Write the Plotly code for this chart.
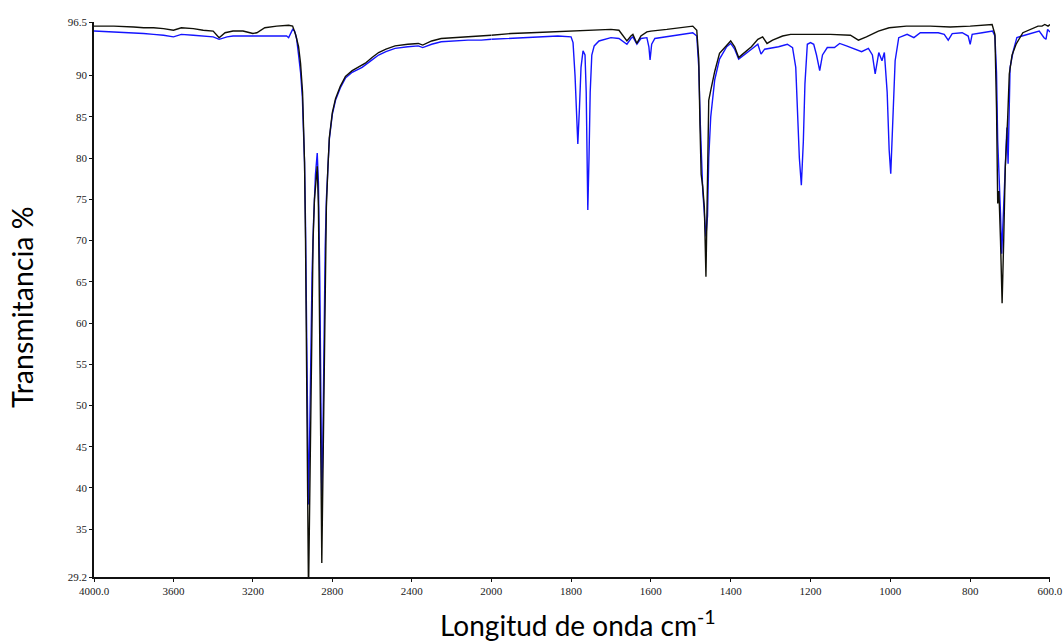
import plotly.graph_objects as go

# ---- Data: sample spectrum (black) ----
wn_black = [4000, 3900, 3800, 3750, 3700, 3650, 3600, 3560, 3500, 3450, 3400, 3370, 3340, 3300,
            3250, 3200, 3180, 3140, 3080, 3020, 3000, 2985, 2970, 2960, 2950, 2945, 2940, 2935,
            2930, 2925, 2920, 2912, 2905, 2897, 2890, 2882, 2876, 2870, 2863, 2857, 2853, 2848,
            2842, 2836, 2830, 2822, 2815, 2800, 2784, 2760, 2734, 2700, 2684, 2650, 2634, 2600,
            2567, 2530, 2484, 2420, 2367, 2345, 2334, 2300, 2252, 2200, 2117, 2050, 2000,
            1950, 1900, 1850, 1800, 1750, 1700, 1680, 1660, 1650, 1645, 1635, 1625, 1610, 1600,
            1560, 1520, 1495, 1485, 1480, 1477, 1474, 1470, 1466, 1462, 1458, 1455, 1450, 1440,
            1428, 1410, 1400, 1390, 1380, 1370, 1348, 1332, 1320, 1309, 1295, 1270, 1250, 1200,
            1150, 1100, 1080, 1060, 1030, 1003, 960, 900, 850, 800, 760, 745, 738, 734, 731, 728,
            724, 720, 716, 712, 706, 702, 695, 685, 668, 650, 630, 620, 613, 605, 600]
t_black = [96.0, 96.0, 95.9, 95.8, 95.8, 95.7, 95.5, 95.8, 95.7, 95.5, 95.4, 94.6, 95.2, 95.4,
           95.4, 95.1, 95.2, 95.8, 96.0, 96.1, 96.0, 95.0, 93.5, 91.5, 88.0, 84.5, 79.5, 70.0,
           58.0, 42.0, 27.0, 42.0, 58.0, 70.0, 75.0, 78.0, 79.0, 74.0, 60.0, 42.0, 30.9, 40.0,
           55.0, 68.0, 74.0, 79.0, 82.5, 85.5, 87.2, 88.7, 89.9, 90.6, 90.8, 91.2, 91.5, 92.2,
           92.8, 93.2, 93.6, 93.8, 93.9, 93.7, 93.8, 94.2, 94.5, 94.6, 94.7, 94.8, 94.9,
           95.1, 95.2, 95.3, 95.4, 95.5, 95.6, 95.5, 94.2, 94.8, 95.0, 93.9, 94.8, 95.3, 95.4,
           95.6, 95.9, 96.0, 95.5, 92.0, 84.0, 78.0, 76.5, 74.0, 65.6, 80.0, 87.0, 88.2, 90.5,
           92.7, 93.7, 94.2, 93.5, 92.2, 92.6, 93.5, 94.4, 94.7, 93.9, 94.3, 94.8, 95.0, 95.0,
           95.0, 94.9, 94.3, 94.7, 95.4, 95.8, 96.0, 96.0, 95.9, 96.0, 96.1, 96.2, 95.0, 86.0,
           74.5, 76.0, 70.0, 62.4, 70.0, 78.9, 84.9, 90.2, 92.5, 93.8, 95.2, 95.6, 96.0, 96.0,
           96.2, 96.0, 96.2]

# ---- Data: second spectrum (blue) ----
wn_blue = [4000, 3900, 3800, 3750, 3700, 3650, 3600, 3560, 3500, 3450, 3400, 3370, 3330, 3300,
           3200, 3100, 3030, 3020, 3010, 3000, 2990, 2980, 2970, 2960, 2951, 2945, 2940, 2935,
           2930, 2925, 2920, 2915, 2910, 2902, 2895, 2885, 2876, 2870, 2863, 2857, 2853, 2848,
           2842, 2836, 2830, 2822, 2815, 2800, 2784, 2760, 2734, 2700, 2650, 2600, 2567, 2530,
           2484, 2420, 2367, 2345, 2300, 2252, 2200, 2117, 2050, 2000,
           1950, 1900, 1850, 1833, 1800, 1795, 1790, 1786, 1783, 1779, 1775, 1770, 1765, 1762,
           1759, 1758, 1755, 1752, 1748, 1742, 1730, 1717, 1700, 1680, 1660, 1650, 1645, 1635,
           1625, 1610, 1605, 1602, 1598, 1590, 1560, 1520, 1495, 1485, 1480, 1476, 1470, 1466,
           1462, 1458, 1455, 1450, 1440, 1428, 1410, 1400, 1390, 1380, 1370, 1348, 1332, 1324,
           1315, 1300, 1280, 1258, 1245, 1237, 1232, 1228, 1223, 1218, 1214, 1208, 1200, 1192,
           1185, 1177, 1170, 1158, 1140, 1127, 1110, 1093, 1072, 1055, 1045, 1038, 1033, 1029,
           1021, 1015, 1008, 1003, 999, 995, 991, 988, 979, 958, 941, 925, 880, 865, 855, 845,
           820, 805, 800, 795, 770, 744, 738, 734, 731, 727, 724, 721, 717, 712, 708, 705, 702,
           700, 692, 683, 670, 650, 627, 615, 610, 606, 600]
t_blue = [95.4, 95.3, 95.2, 95.1, 95.0, 94.9, 94.7, 95.0, 94.9, 94.8, 94.7, 94.4, 94.7, 94.8,
          94.8, 94.8, 94.8, 94.6, 95.2, 95.6, 95.4, 94.5, 92.5, 90.4, 87.4, 84.0, 79.5, 72.0,
          62.0, 50.0, 38.0, 45.0, 56.0, 66.0, 72.0, 78.0, 80.6, 77.0, 65.0, 50.0, 39.0, 45.0,
          58.0, 69.0, 75.0, 79.5, 82.3, 85.3, 87.0, 88.5, 89.7, 90.4, 91.0, 91.9, 92.5, 92.9,
          93.3, 93.5, 93.6, 93.4, 93.8, 94.1, 94.2, 94.3, 94.3, 94.4,
          94.5, 94.6, 94.7, 94.8, 94.7, 94.0, 90.0, 84.0, 81.7, 86.0, 91.0, 93.0, 92.5, 88.0,
          80.0, 73.7, 80.0, 88.0, 92.5, 93.6, 94.2, 94.4, 94.6, 94.5, 93.8, 94.5, 94.7, 93.8,
          94.5, 94.6, 93.5, 91.9, 93.8, 94.5, 94.7, 95.0, 95.2, 94.8, 91.0, 84.0, 76.0, 73.3,
          70.5, 73.0, 80.0, 85.0, 89.5, 92.0, 93.5, 93.9, 93.2, 92.0, 92.4, 93.2, 93.8, 92.6,
          93.2, 93.3, 93.5, 93.8, 93.4, 91.0, 85.5, 80.0, 76.7, 82.0, 89.0, 93.8, 94.0, 93.8,
          92.5, 90.6, 92.5, 93.4, 93.4, 93.9, 93.6, 93.3, 92.9, 93.3, 92.5, 90.2, 92.0, 92.8,
          91.8, 92.8, 88.0, 81.0, 78.1, 83.0, 89.0, 91.8, 94.6, 95.0, 94.6, 95.2, 95.2, 95.0,
          94.3, 95.1, 95.2, 94.8, 93.8, 95.0, 95.2, 95.4, 94.8, 90.4, 82.1, 78.0, 73.3, 68.4,
          73.0, 80.0, 83.7, 79.3, 86.0, 91.0, 93.0, 94.6, 94.8, 95.1, 95.4, 94.6, 94.4, 95.6,
          95.3]

x_ticks_high = [4000, 3600, 3200, 2800, 2400, 2000]
x_labels_high = ["4000.0", "3600", "3200", "2800", "2400", "2000"]
x_ticks_low = [1800, 1600, 1400, 1200, 1000, 800, 600]
x_labels_low = ["1800", "1600", "1400", "1200", "1000", "800", "600.0"]
y_ticks = [29.2, 35, 40, 45, 50, 55, 60, 65, 70, 75, 80, 85, 90, 96.5]
y_labels = ["29.2", "35", "40", "45", "50", "55", "60", "65", "70", "75", "80", "85", "90", "96.5"]

SPLIT = 2000


def split(wn, t):
    hi = [(w, v) for w, v in zip(wn, t) if w >= SPLIT]
    lo = [(w, v) for w, v in zip(wn, t) if w <= SPLIT]
    return ([p[0] for p in hi], [p[1] for p in hi]), ([p[0] for p in lo], [p[1] for p in lo])


fig = go.Figure()
for wn, t, color in [(wn_blue, t_blue, "#1414ff"), (wn_black, t_black, "#101008")]:
    (xh, yh), (xl, yl) = split(wn, t)
    fig.add_trace(go.Scatter(x=xh, y=yh, mode="lines", line=dict(color=color, width=1.4),
                             xaxis="x", yaxis="y", showlegend=False))
    fig.add_trace(go.Scatter(x=xl, y=yl, mode="lines", line=dict(color=color, width=1.4),
                             xaxis="x2", yaxis="y", showlegend=False))

tick_font = dict(family="Liberation Serif", size=11, color="#1a1a1a")
axis_common = dict(showline=True, linecolor="#111111", linewidth=1.5, ticks="outside",
                   ticklen=3, tickwidth=1, tickcolor="#111111", showgrid=False, zeroline=False,
                   tickfont=tick_font, automargin=False)
split_frac = 0.4155

fig.update_layout(
    width=1063, height=641,
    margin=dict(l=94, r=13, t=22, b=64, autoexpand=False),
    paper_bgcolor="white", plot_bgcolor="white",
    xaxis=dict(domain=[0, split_frac], range=[4000, SPLIT], anchor="y",
               tickvals=x_ticks_high, ticktext=x_labels_high, **axis_common),
    xaxis2=dict(domain=[split_frac, 1], range=[SPLIT, 600], anchor="y",
                tickvals=x_ticks_low, ticktext=x_labels_low, **axis_common),
    yaxis=dict(range=[29.2, 96.5], tickvals=y_ticks, ticktext=y_labels, **axis_common),
    annotations=[
        dict(text="Transmitancia %", xref="paper", yref="paper", x=-0.0753, y=0.4865,
             xanchor="center", yanchor="middle", textangle=-90, showarrow=False,
             font=dict(family="Lato", size=28.5, color="#000000")),
        dict(text="Longitud de onda cm<sup>-1</sup>", xref="paper", yref="paper", x=0.506,
             y=-0.083, xanchor="center", yanchor="middle", showarrow=False,
             font=dict(family="Lato", size=28, color="#000000")),
    ],
)

# Remove the default page margin so the figure fills the 1063x641 window exactly.
fig.write_html("out.html", config={"displayModeBar": False},
               post_script="document.body.style.margin='0';document.body.style.overflow='hidden';")
